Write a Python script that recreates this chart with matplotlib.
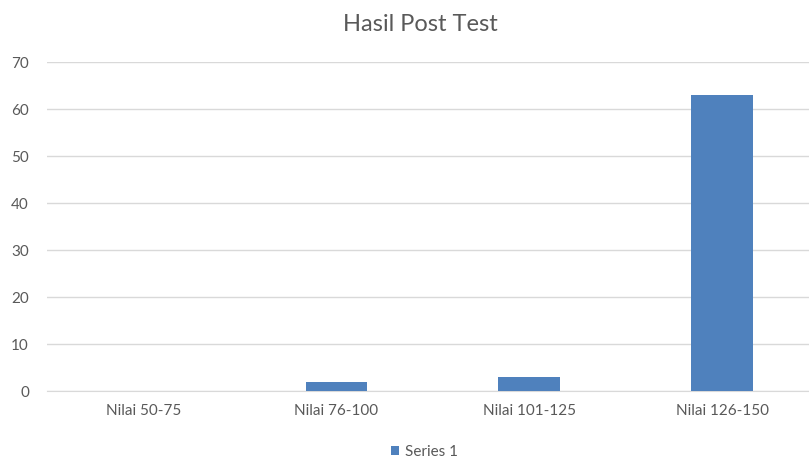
import numpy as np
import matplotlib
matplotlib.use('agg')
from matplotlib import pyplot as plt
from matplotlib.patches import Patch

plt.rcParams['font.family'] = ['Lato', 'DejaVu Sans']

categories = ['Nilai 50-75', 'Nilai 76-100', 'Nilai 101-125', 'Nilai 126-150']
values = [0, 2, 3, 63]
series_name = 'Series 1'

bar_color = '#4F81BD'
text_color = '#595959'
grid_color = '#D9D9D9'

fig = plt.figure(figsize=(8.09, 4.61), dpi=100)
ax = fig.add_axes([47/809, 1 - 391/461, 762/809, (391 - 62)/461])

x = np.arange(len(categories))
ax.bar(x, values, width=0.32, color=bar_color, zorder=3)

ax.set_ylim(0, 70)
ax.set_yticks(np.arange(0, 71, 10))
ax.set_xlim(-0.5, 3.45)
ax.set_xticks(x)
ax.set_xticklabels(categories)

ax.grid(axis='y', color=grid_color, linewidth=1, zorder=0)
for side in ['top', 'right', 'left']:
    ax.spines[side].set_visible(False)
ax.spines['bottom'].set_color(grid_color)
ax.tick_params(axis='both', length=0, colors=text_color, labelsize=11)
ax.tick_params(axis='y', pad=13)
ax.tick_params(axis='x', pad=9)

fig.suptitle('Hasil Post Test', x=0.52, y=0.97, fontsize=17, color=text_color)

handles = [Patch(facecolor=bar_color, label=series_name)]
fig.legend(handles=handles, loc='center', bbox_to_anchor=(0.525, 1 - 452/461),
           frameon=False, fontsize=11, labelcolor=text_color,
           handlelength=0.55, handleheight=0.55, handletextpad=0.4)

fig.savefig('out.png', dpi=100)
